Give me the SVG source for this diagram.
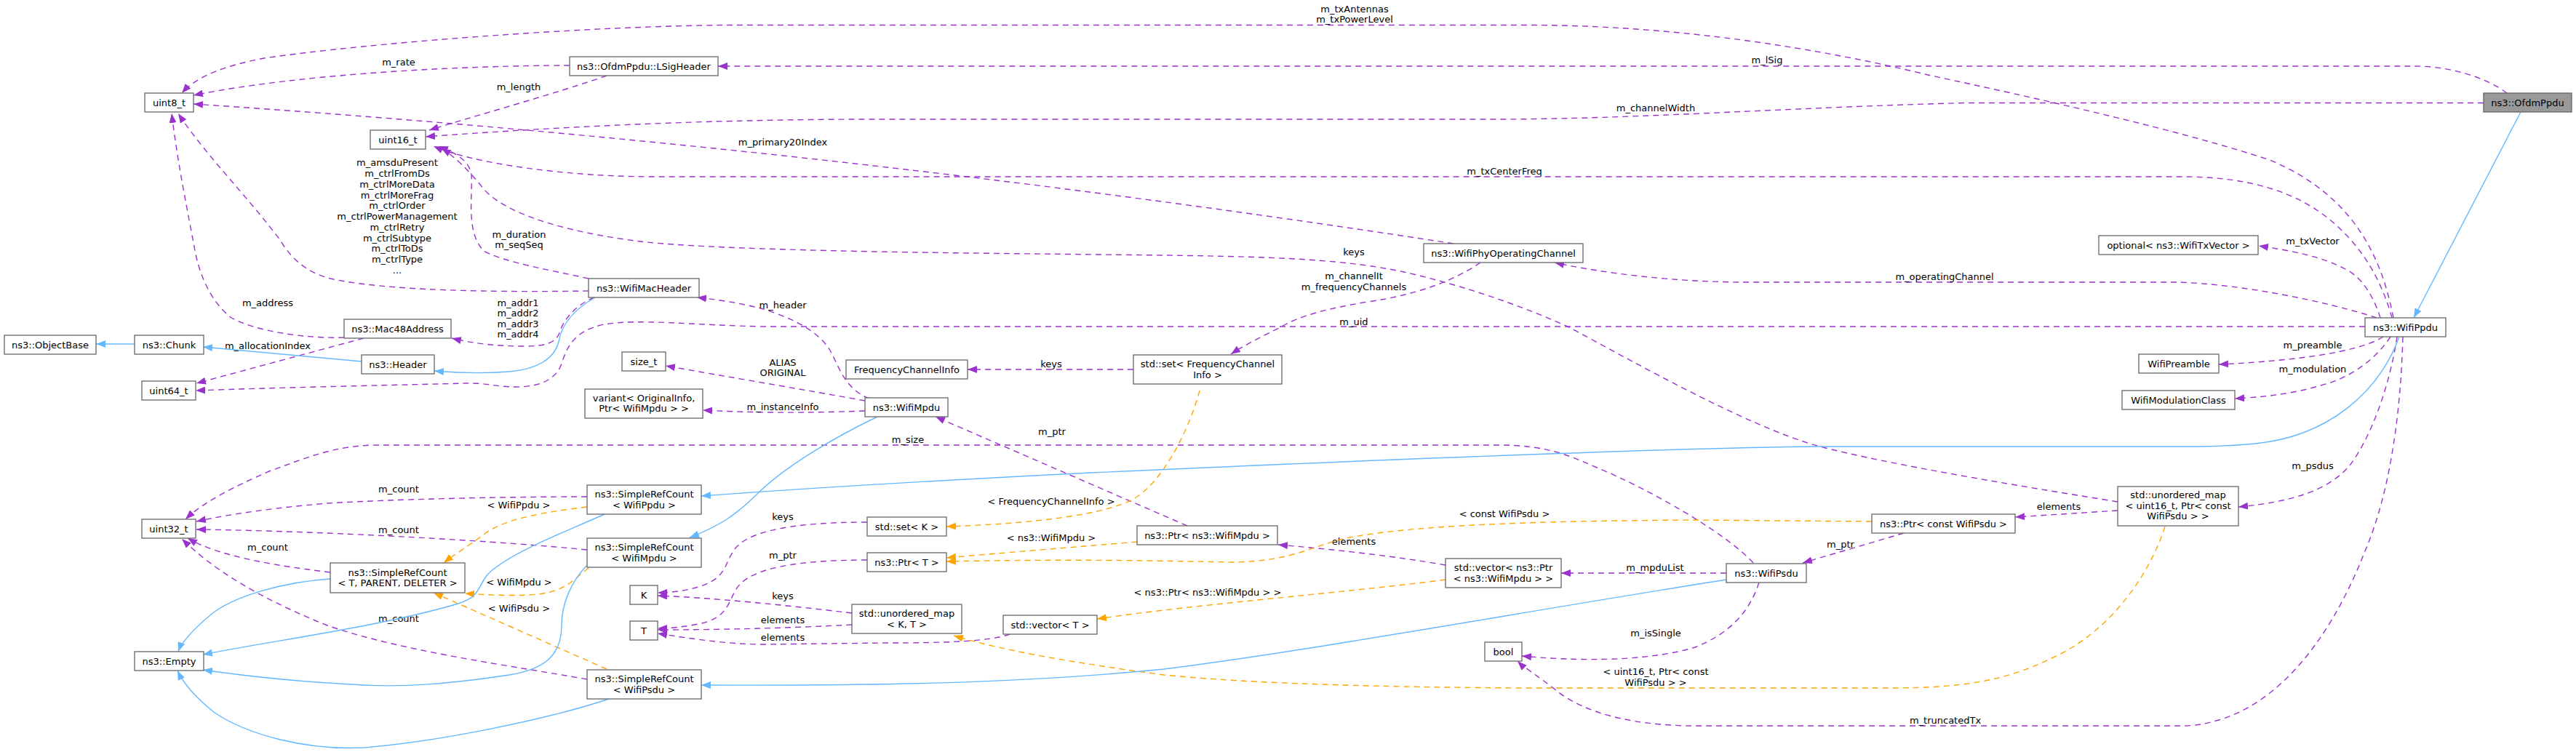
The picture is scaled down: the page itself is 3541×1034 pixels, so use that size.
<svg xmlns="http://www.w3.org/2000/svg" width="3541" height="1034" viewBox="0 0 3541 1034">
<style>
text{font-family:"DejaVu Sans","Liberation Sans",sans-serif;font-size:13px;fill:#000;text-anchor:middle}
.n rect{fill:#fff;stroke:#666;stroke-width:1.3}
.n.main rect{fill:#999}
.u{fill:none;stroke:#9a32cd;stroke-width:1.4;stroke-dasharray:8,6;marker-end:url(#ap)}
.o{fill:none;stroke:#ffa500;stroke-width:1.4;stroke-dasharray:8,6;marker-end:url(#ao)}
.b{fill:none;stroke:#63b8ff;stroke-width:1.4;marker-end:url(#ab)}
</style>
<defs>
<marker id="ap" viewBox="0 0 13 10" refX="13" refY="5" markerWidth="13" markerHeight="10" markerUnits="userSpaceOnUse" orient="auto"><path d="M0,0L13,5L0,10z" fill="#9a32cd"/></marker>
<marker id="ao" viewBox="0 0 13 10" refX="13" refY="5" markerWidth="13" markerHeight="10" markerUnits="userSpaceOnUse" orient="auto"><path d="M0,0L13,5L0,10z" fill="#ffa500"/></marker>
<marker id="ab" viewBox="0 0 13 10" refX="13" refY="5" markerWidth="13" markerHeight="10" markerUnits="userSpaceOnUse" orient="auto"><path d="M0,0L13,5L0,10z" fill="#63b8ff"/></marker>
</defs>
<rect width="3541" height="1034" fill="#fff"/>
<g id="edges">
<path class="u" d="M3290,437 C3275,360 3240,270 3120,220 C3000,180 2800,135 2650,103 C2500,66 2300,34.5 2100,34.5 L1000,34.5 C800,36 500,60 363,80 C310,90 270,105 250,128"/>
<text x="1862" y="16.5">m_txAntennas</text><text x="1862" y="31">m_txPowerLevel</text>
<path class="u" d="M3446,128 C3420,108 3370,91 3320,91 L987,91"/>
<text x="2429" y="87">m_lSig</text>
<path class="u" d="M3414,141.5 L2700,141.5 C2450,148 2250,164 2050,164 L1200,164 C1000,164 800,172 585,188"/>
<text x="2276" y="153">m_channelWidth</text>
<path class="u" d="M783,90 C650,90 420,100 266,131"/>
<text x="548" y="89.5">m_rate</text>
<path class="u" d="M834,104 C760,130 650,160 590,179"/>
<text x="713" y="123.5">m_length</text>
<path class="u" d="M1998,335 C1500,258 900,185 266,143"/>
<text x="1076" y="199.5">m_primary20Index</text>
<path class="u" d="M3288,437 C3275,390 3250,340 3200,300 C3160,268 3100,243 3000,243 L900,243 C780,243 650,225 596,201"/>
<text x="2068" y="239.5">m_txCenterFreq</text>
<path class="u" d="M2911,690 C2800,672 2600,640 2498,613 C2400,585 2250,500 2157,450 C2080,415 2000,390 1930,374 C1850,357 1760,353 1600,351 L1334,348 C1100,345 950,340 880,332 C800,322 700,300 665,260 C645,235 625,215 607,204"/>
<text x="1861" y="350.5">keys</text>
<path class="u" d="M809,383 C760,372 690,360 665,345 C640,320 650,270 648,240 C645,220 625,210 603,201"/>
<text x="713.5" y="327">m_duration</text><text x="713.5" y="341">m_seqSeq</text>
<path class="u" d="M809,400 C680,402 530,400 454,383 C420,374 400,355 385,330 C340,270 280,210 245,156"/>
<text x="546" y="228">m_amsduPresent</text><text x="546" y="243">m_ctrlFromDs</text><text x="546" y="257.5">m_ctrlMoreData</text><text x="546" y="272.5">m_ctrlMoreFrag</text><text x="546" y="287">m_ctrlOrder</text><text x="546" y="302">m_ctrlPowerManagement</text><text x="546" y="316.5">m_ctrlRetry</text><text x="546" y="331.5">m_ctrlSubtype</text><text x="546" y="346">m_ctrlToDs</text><text x="546" y="361">m_ctrlType</text><text x="546" y="375.5">...</text>
<path class="u" d="M473,464 C420,466 350,455 318,437 C290,415 275,380 268,345 C258,290 245,230 236,156"/>
<text x="368" y="420.5">m_address</text>
<path class="u" d="M817,409 C790,420 775,440 770,455 C765,472 750,476 720,476 C680,476 650,472 621,465"/>
<text x="712" y="420.5">m_addr1</text><text x="712" y="435">m_addr2</text><text x="712" y="449.5">m_addr3</text><text x="712" y="464">m_addr4</text>
<path class="u" d="M500,465 L270,527"/>
<text x="368" y="480">m_allocationIndex</text>
<path class="u" d="M3251,449 L1050,449 C950,447 880,438 830,446 C790,455 780,475 772,500 C765,520 745,532 709,532 C680,532 670,526 640,527 C520,530 380,533 269,537"/>
<text x="1861" y="446.5">m_uid</text>
<path class="u" d="M1195,548 C1160,535 1152,500 1140,480 C1120,450 1080,435 1050,425 C1010,415 985,412 958,409"/>
<text x="1076" y="423.5">m_header</text>
<path class="u" d="M1189,551 C1100,535 1000,518 915,503"/>
<text x="1076" y="503">ALIAS</text><text x="1076" y="517">ORIGINAL</text>
<path class="u" d="M1189,565 C1100,568 1050,568 966,564"/>
<text x="1076" y="563.5">m_instanceInfo</text>
<path class="u" d="M1558,508 L1330,508"/>
<text x="1445" y="504.5">keys</text>
<path class="u" d="M2035,361 C2000,385 1950,405 1880,415 C1820,425 1785,435 1760,450 C1730,465 1710,475 1692,487"/>
<text x="1861" y="384">m_channelIt</text><text x="1861" y="398.5">m_frequencyChannels</text>
<path class="u" d="M3267,437 C3200,415 3080,390 2990,388 L2400,388 C2300,388 2200,375 2137,361"/>
<text x="2673" y="384.5">m_operatingChannel</text>
<path class="u" d="M3272,437 C3262,405 3245,380 3224,370 C3190,352 3150,345 3105,338"/>
<text x="3179" y="336">m_txVector</text>
<path class="u" d="M3276,463 C3250,480 3180,495 3050,501"/>
<text x="3179" y="479">m_preamble</text>
<path class="u" d="M3286,463 C3265,495 3230,520 3190,530 C3150,542 3110,546 3072,548"/>
<text x="3179" y="512">m_modulation</text>
<path class="u" d="M3295,463 C3285,530 3260,600 3230,640 C3200,675 3150,690 3077,697"/>
<text x="3179" y="644.5">m_psdus</text>
<path class="u" d="M3303,463 C3300,570 3285,680 3250,760 C3215,850 3150,960 3050,990 C3030,996 3015,998 3000,998 L2330,998 C2250,998 2180,982 2140,950 C2115,930 2095,918 2086,909"/>
<text x="2674" y="995">m_truncatedTx</text>
<path class="u" d="M2418,801 C2405,840 2380,870 2330,890 C2280,905 2200,912 2092,902"/>
<text x="2276" y="875">m_isSingle</text>
<path class="u" d="M2373,788 L2146,788"/>
<text x="2275" y="784.5">m_mpduList</text>
<path class="u" d="M2410,774 C2370,730 2260,670 2200,645 C2160,628 2130,612 2060,612 L520,612 C460,612 420,630 370,648 C320,670 280,690 255,714"/>
<text x="1248" y="608.5">m_size</text>
<path class="u" d="M1632,723 L1286,573"/>
<text x="1446" y="597.5">m_ptr</text>
<path class="u" d="M1987,777 C1920,765 1830,755 1757,749"/>
<text x="1861" y="748.5">elements</text>
<path class="u" d="M2617,733 L2478,774"/>
<text x="2530" y="752.5">m_ptr</text>
<path class="u" d="M2911,702 L2770,711"/>
<text x="2830" y="701">elements</text>
<path class="u" d="M807,683 C700,683 550,686 450,692 C380,698 320,706 270,717"/>
<text x="548" y="677">m_count</text>
<path class="u" d="M807,756 C700,745 450,730 270,728"/>
<text x="548" y="733">m_count</text>
<path class="u" d="M454,787 C380,778 300,765 258,740"/>
<text x="368" y="756.5">m_count</text>
<path class="u" d="M807,934 C700,915 550,895 450,860 C350,820 290,780 250,741"/>
<text x="548" y="855">m_count</text>
<path class="u" d="M1192,718 C1100,718 1030,728 1010,755 C995,775 1000,795 960,807 C940,813 920,815 904,815"/>
<text x="1076" y="715">keys</text>
<path class="u" d="M1192,770 C1100,770 1030,780 1012,810 C1000,830 1000,850 960,858 C940,862 920,864 904,864"/>
<text x="1076" y="767.5">m_ptr</text>
<path class="u" d="M1171,843 C1080,832 980,822 904,819"/>
<text x="1076" y="824">keys</text>
<path class="u" d="M1171,859 C1080,864 980,866 904,866"/>
<text x="1076" y="857">elements</text>
<path class="u" d="M1388,872 C1360,882 1300,884 1220,884 L1050,886 C1000,886 950,878 904,871"/>
<text x="1076" y="881">elements</text>
<path class="o" d="M1649,537 C1635,590 1600,660 1560,685 C1520,708 1420,720 1301,724"/>
<text x="1445" y="693.5">&lt; FrequencyChannelInfo &gt;</text>
<path class="o" d="M1563,745 C1480,752 1380,760 1301,767"/>
<text x="1445" y="743.5">&lt; ns3::WifiMpdu &gt;</text>
<path class="o" d="M2573,717 L2330,715 C2150,716 1950,720 1850,740 C1800,752 1780,770 1700,773 C1620,772 1500,768 1301,772"/>
<text x="2068" y="711">&lt; const WifiPsdu &gt;</text>
<path class="o" d="M1987,797 C1850,815 1650,830 1508,851"/>
<text x="1660" y="818.5">&lt; ns3::Ptr&lt; ns3::WifiMpdu &gt; &gt;</text>
<path class="o" d="M2976,724 C2955,790 2900,870 2820,905 C2760,935 2700,946 2600,946 L2100,946 C1900,945 1720,940 1600,928 C1480,912 1380,895 1311,874"/>
<text x="2276" y="928">&lt; uint16_t, Ptr&lt; const</text><text x="2276" y="942.5">WifiPsdu &gt; &gt;</text>
<path class="o" d="M807,697 C740,705 690,715 665,735 C645,750 625,762 610,774"/>
<text x="713" y="699">&lt; WifiPpdu &gt;</text>
<path class="o" d="M809,781 C790,795 780,812 740,817 C710,820 670,818 639,816"/>
<text x="713.5" y="805">&lt; WifiMpdu &gt;</text>
<path class="o" d="M834,920 L596,815"/>
<text x="713.5" y="841">&lt; WifiPsdu &gt;</text>
<path class="b" d="M185,473 L132,473"/>
<path class="b" d="M497,497 L279,477"/>
<path class="b" d="M818,409 C790,425 772,445 768,470 C762,495 735,508 700,511 C660,514 620,512 597,510"/>
<path class="b" d="M3465,154 L3318,437"/>
<path class="b" d="M3298,463 C3270,540 3200,600 3100,610 C3060,614 3030,614 2990,614 L2500,614 C2300,616 1900,632 1500,650 C1300,660 1100,672 964,682"/>
<path class="b" d="M1206,573 C1150,600 1080,640 1040,680 C1010,710 985,725 948,739"/>
<path class="b" d="M2373,797 C2100,840 1800,895 1600,920 C1400,940 1200,943 964,942"/>
<path class="b" d="M454,796 C390,800 320,820 290,845 C265,866 250,882 245,896"/>
<path class="b" d="M831,707 C780,730 700,760 670,790 C655,810 660,820 630,830 C520,862 380,880 279,900"/>
<path class="b" d="M807,777 C785,800 772,830 772,860 C772,900 750,920 700,928 C620,940 560,945 500,942 C420,938 340,930 279,921"/>
<path class="b" d="M837,961 C750,990 600,1020 500,1028 C420,1032 340,1010 295,980 C270,960 252,940 244,922"/>
</g>
<g id="OfdmPpdu" class="n main"><rect x="3414" y="128" width="121" height="26"/><text x="3474.5" y="145.5">ns3::OfdmPpdu</text></g>
<g id="LSigHeader" class="n"><rect x="783" y="78" width="204" height="26"/><text x="885" y="95.5">ns3::OfdmPpdu::LSigHeader</text></g>
<g id="uint8_t" class="n"><rect x="199" y="128" width="67" height="26"/><text x="232.5" y="145.5">uint8_t</text></g>
<g id="uint16_t" class="n"><rect x="509" y="179" width="76" height="26"/><text x="547" y="196.5">uint16_t</text></g>
<g id="WifiMacHeader" class="n"><rect x="809" y="383" width="152" height="26"/><text x="885" y="400.5">ns3::WifiMacHeader</text></g>
<g id="Mac48Address" class="n"><rect x="473" y="439" width="147" height="26"/><text x="546.5" y="456.5">ns3::Mac48Address</text></g>
<g id="ObjectBase" class="n"><rect x="6" y="461" width="126" height="26"/><text x="69" y="478.5">ns3::ObjectBase</text></g>
<g id="Chunk" class="n"><rect x="185" y="461" width="95" height="26"/><text x="232.5" y="478.5">ns3::Chunk</text></g>
<g id="Header" class="n"><rect x="497" y="488" width="100" height="26"/><text x="547" y="505.5">ns3::Header</text></g>
<g id="uint64_t" class="n"><rect x="195" y="524" width="74" height="26"/><text x="232" y="541.5">uint64_t</text></g>
<g id="size_t" class="n"><rect x="855" y="484" width="60" height="26"/><text x="885" y="501.5">size_t</text></g>
<g id="variant" class="n"><rect x="804" y="535" width="162" height="40"/><text x="885" y="551.5">variant&lt; OriginalInfo,</text><text x="885" y="566">Ptr&lt; WifiMpdu &gt; &gt;</text></g>
<g id="SRC_WifiPpdu" class="n"><rect x="807" y="667" width="157" height="40"/><text x="885.5" y="684">ns3::SimpleRefCount</text><text x="885.5" y="698.5">&lt; WifiPpdu &gt;</text></g>
<g id="uint32_t" class="n"><rect x="195" y="714" width="74" height="26"/><text x="232" y="731.5">uint32_t</text></g>
<g id="SRC_T" class="n"><rect x="454" y="774" width="185" height="41"/><text x="546.5" y="791.5">ns3::SimpleRefCount</text><text x="546.5" y="805.5">&lt; T, PARENT, DELETER &gt;</text></g>
<g id="SRC_WifiMpdu" class="n"><rect x="807" y="740" width="157" height="40"/><text x="885.5" y="757">ns3::SimpleRefCount</text><text x="885.5" y="771.5">&lt; WifiMpdu &gt;</text></g>
<g id="Empty" class="n"><rect x="185" y="896" width="95" height="26"/><text x="232.5" y="913.5">ns3::Empty</text></g>
<g id="SRC_WifiPsdu" class="n"><rect x="807" y="921" width="157" height="40"/><text x="885.5" y="938">ns3::SimpleRefCount</text><text x="885.5" y="952.5">&lt; WifiPsdu &gt;</text></g>
<g id="K" class="n"><rect x="866" y="805" width="38" height="26"/><text x="885" y="822.5">K</text></g>
<g id="T" class="n"><rect x="866" y="854" width="38" height="26"/><text x="885" y="871.5">T</text></g>
<g id="FrequencyChannelInfo" class="n"><rect x="1163" y="495" width="167" height="26"/><text x="1246.5" y="512.5">FrequencyChannelInfo</text></g>
<g id="set_FCI" class="n"><rect x="1558" y="488" width="204" height="40"/><text x="1660" y="505">std::set&lt; FrequencyChannel</text><text x="1660" y="519.5">Info &gt;</text></g>
<g id="WifiMpdu" class="n"><rect x="1189" y="547" width="114" height="26"/><text x="1246" y="564.5">ns3::WifiMpdu</text></g>
<g id="set_K" class="n"><rect x="1192" y="711" width="109" height="26"/><text x="1246.5" y="728.5">std::set&lt; K &gt;</text></g>
<g id="Ptr_T" class="n"><rect x="1192" y="760" width="109" height="26"/><text x="1246.5" y="777.5">ns3::Ptr&lt; T &gt;</text></g>
<g id="Ptr_WifiMpdu" class="n"><rect x="1563" y="723" width="193" height="26"/><text x="1659.5" y="740.5">ns3::Ptr&lt; ns3::WifiMpdu &gt;</text></g>
<g id="umap_KT" class="n"><rect x="1171" y="831" width="151" height="40"/><text x="1246.5" y="848">std::unordered_map</text><text x="1246.5" y="862.5">&lt; K, T &gt;</text></g>
<g id="vector_T" class="n"><rect x="1379" y="846" width="129" height="26"/><text x="1443.5" y="863.5">std::vector&lt; T &gt;</text></g>
<g id="WifiPhyOperatingChannel" class="n"><rect x="1957" y="335" width="219" height="26"/><text x="2066.5" y="352.5">ns3::WifiPhyOperatingChannel</text></g>
<g id="vector_PtrMpdu" class="n"><rect x="1987" y="768" width="159" height="40"/><text x="2066.5" y="785">std::vector&lt; ns3::Ptr</text><text x="2066.5" y="799.5">&lt; ns3::WifiMpdu &gt; &gt;</text></g>
<g id="WifiPsdu" class="n"><rect x="2373" y="775" width="110" height="26"/><text x="2428" y="792.5">ns3::WifiPsdu</text></g>
<g id="Ptr_constPsdu" class="n"><rect x="2573" y="707" width="197" height="26"/><text x="2671.5" y="724.5">ns3::Ptr&lt; const WifiPsdu &gt;</text></g>
<g id="bool" class="n"><rect x="2041" y="883" width="51" height="26"/><text x="2066.5" y="900.5">bool</text></g>
<g id="umap_psdus" class="n"><rect x="2911" y="669" width="166" height="54"/><text x="2994" y="685">std::unordered_map</text><text x="2994" y="699.5">&lt; uint16_t, Ptr&lt; const</text><text x="2994" y="714">WifiPsdu &gt; &gt;</text></g>
<g id="WifiPpdu" class="n"><rect x="3251" y="437" width="111" height="26"/><text x="3306.5" y="454.5">ns3::WifiPpdu</text></g>
<g id="WifiPreamble" class="n"><rect x="2940" y="487" width="110" height="26"/><text x="2995" y="504.5">WifiPreamble</text></g>
<g id="WifiModulationClass" class="n"><rect x="2917" y="537" width="155" height="26"/><text x="2994.5" y="554.5">WifiModulationClass</text></g>
<g id="optional" class="n"><rect x="2885" y="324" width="219" height="26"/><text x="2994.5" y="341.5">optional&lt; ns3::WifiTxVector &gt;</text></g>
</svg>
